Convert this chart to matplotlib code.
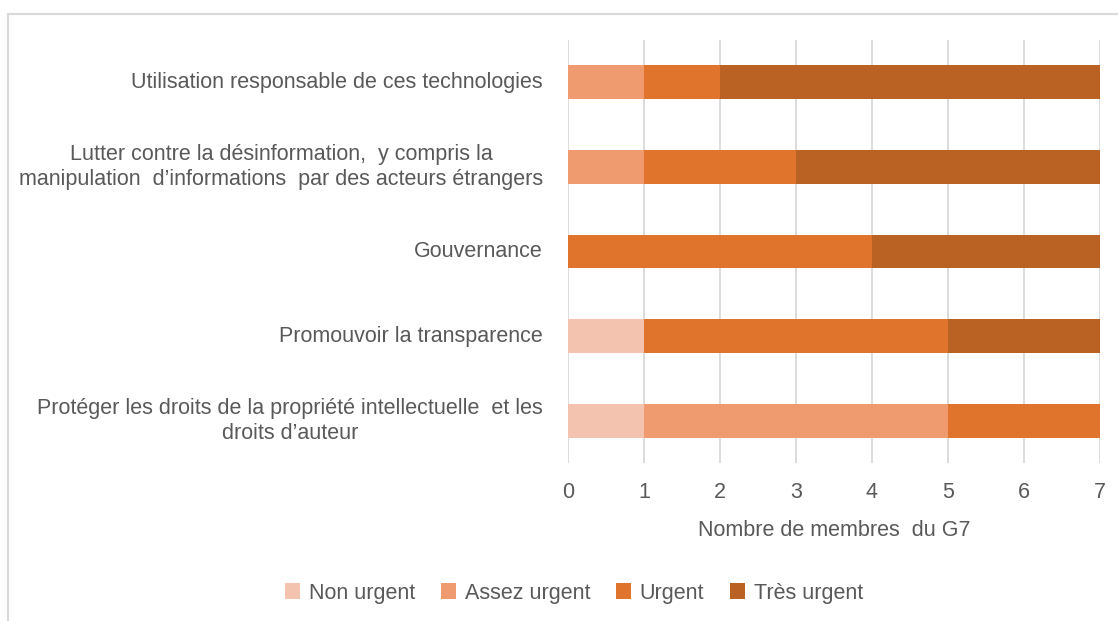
import matplotlib.pyplot as plt
from matplotlib.patches import Rectangle
from matplotlib.transforms import offset_copy

categories = [
    "Utilisation responsable de ces technologies",
    "Lutter contre la désinformation,  y compris la\nmanipulation  d’informations  par des acteurs étrangers",
    "Gouvernance",
    "Promouvoir la transparence",
    "Protéger les droits de la propriété intellectuelle  et les\ndroits d’auteur",
]
series_names = ["Non urgent", "Assez urgent", "Urgent", "Très urgent"]
non_urgent = [0, 0, 0, 1, 1]
assez_urgent = [1, 1, 0, 0, 4]
urgent = [1, 2, 4, 4, 2]
tres_urgent = [5, 4, 3, 2, 0]
colors = ["#F4C3B0", "#F09A70", "#E0742C", "#BA6124"]
xticks = [0, 1, 2, 3, 4, 5, 6, 7]

plt.rcParams["font.family"] = ["Liberation Sans", "DejaVu Sans"]
txt = "#595959"
fs = 15.5

fig = plt.figure(figsize=(11.18, 6.21), dpi=100)
fig.patch.set_facecolor("white")
fig.patches.append(Rectangle((8 / 1118, -0.05), 1.2, 1 - 14 / 621 + 0.05,
                             transform=fig.transFigure, fill=False,
                             edgecolor="#D9D9D9", linewidth=1.5))

ax = fig.add_axes([568 / 1118, 1 - 463 / 621, (1100 - 568) / 1118, (463 - 40) / 621])
y = list(range(len(categories)))
left = [0] * len(categories)
for name, vals, c in zip(series_names, [non_urgent, assez_urgent, urgent, tres_urgent], colors):
    ax.barh(y, vals, left=left, height=0.4, color=c, label=name, zorder=3)
    left = [a + b for a, b in zip(left, vals)]

ax.set_ylim(4.5, -0.5)
ax.set_xlim(0, 7)
ax.set_xticks(xticks)
ax.set_yticks(y)
ax.set_yticklabels([])
ax.tick_params(axis="x", labelsize=fs, colors=txt, length=0, pad=14)
ax.tick_params(axis="y", length=0)
trans = offset_copy(ax.get_yaxis_transform(), fig=fig, x=-25, y=0, units="dots")
for yi, lab in zip(y, categories):
    ax.text(0, yi, lab, transform=trans, ha="right", va="center", multialignment="center",
            fontsize=fs, color=txt, linespacing=1.25)
ax.grid(axis="x", color="#D9D9D9", linewidth=1.3, zorder=0)
for s in ax.spines.values():
    s.set_visible(False)
ax.set_xlabel("Nombre de membres  du G7", fontsize=fs, color=txt, labelpad=12)

ax.legend(loc="center", bbox_to_anchor=(574 / 1118, 1 - 593 / 621), bbox_transform=fig.transFigure,
          ncol=4, frameon=False, fontsize=fs, labelcolor=txt, handlelength=0.7,
          handleheight=0.7, handletextpad=0.4, columnspacing=1.2)

fig.savefig("out.png", dpi=100)
